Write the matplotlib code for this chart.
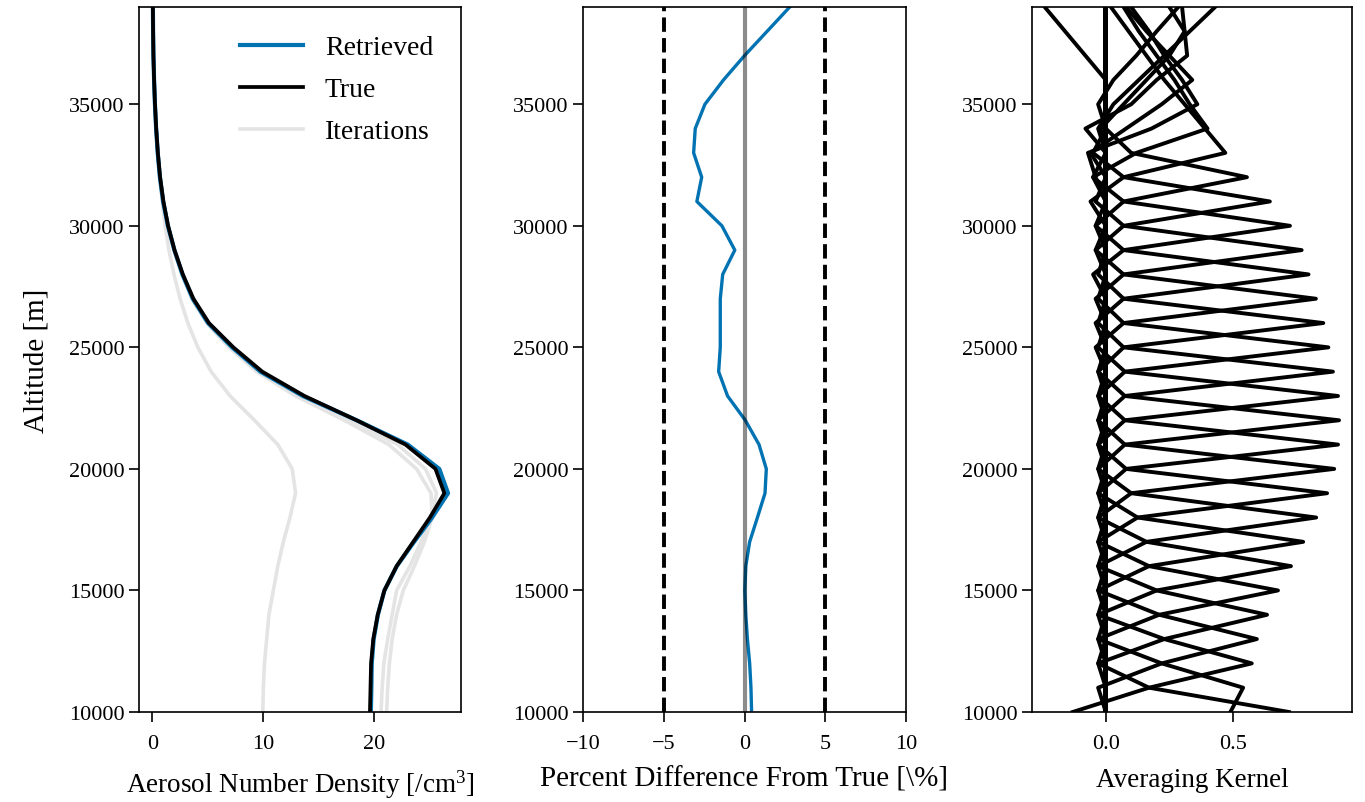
import numpy as np
import matplotlib
matplotlib.use("Agg")
import matplotlib.pyplot as plt

plt.rcParams["font.family"] = ["Liberation Serif", "DejaVu Serif"]
plt.rcParams["mathtext.fontset"] = "custom"
plt.rcParams["mathtext.rm"] = "Liberation Serif"
plt.rcParams["mathtext.it"] = "Liberation Serif:italic"

# Retrieval grid [m]
altitude = np.arange(10000, 41000, 1000)

# True aerosol number density [/cm^3]
true_density = [19.6, 19.65, 19.7, 19.9, 20.3, 20.9, 22.0, 23.5, 25.0, 26.3,
                25.5, 22.8, 18.4, 13.7, 9.9, 7.3, 5.1, 3.7, 2.75, 2.0,
                1.42, 1.0, 0.7, 0.5, 0.35, 0.24, 0.16, 0.1, 0.07, 0.05, 0.04]

# Percent difference retrieved vs. true [%]
percent_diff = [0.44, 0.40, 0.32, 0.18, 0.08, 0.02, 0.08, 0.32, 0.80, 1.27,
                1.35, 0.90, 0.05, -1.05, -1.60, -1.50, -1.50, -1.50, -1.35, -0.60,
                -1.40, -2.95, -2.65, -3.15, -3.05, -2.45, -1.30, 0.0, 1.40, 2.80, 4.20]

# Intermediate iterations of the retrieval
iteration_1 = [9.95, 10.0, 10.1, 10.3, 10.5, 10.9, 11.3, 11.8, 12.4, 12.9,
               12.6, 11.3, 9.2, 7.0, 5.3, 4.1, 3.2, 2.5, 1.95, 1.5,
               1.15, 0.9, 0.66, 0.48, 0.34, 0.24, 0.16, 0.1, 0.07, 0.05, 0.04]
iteration_2 = [21.1, 21.2, 21.35, 21.6, 22.0, 22.6, 23.6, 24.5, 25.2, 25.1,
               23.8, 21.3, 17.3, 12.9, 9.4, 6.9, 4.9, 3.55, 2.65, 1.93,
               1.38, 0.98, 0.69, 0.5, 0.35, 0.24, 0.16, 0.1, 0.07, 0.05, 0.04]
iteration_3 = [20.6, 20.7, 20.85, 21.2, 21.6, 22.0, 23.2, 24.2, 25.1, 25.6,
               24.6, 22.1, 17.8, 13.3, 9.65, 7.1, 5.0, 3.62, 2.7, 1.96,
               1.4, 0.99, 0.7, 0.5, 0.35, 0.24, 0.16, 0.1, 0.07, 0.05, 0.04]
iterations = [iteration_1, iteration_2, iteration_3]

# Averaging kernel, rows 10000-30000 m: value at the row's own altitude
# and at the levels one and two steps below / above it
kernel_peak = [0.72, 0.54, 0.574, 0.594, 0.634, 0.677, 0.728, 0.776, 0.827, 0.87,
               0.898, 0.913, 0.917, 0.913, 0.893, 0.875, 0.855, 0.826, 0.797, 0.77,
               0.724]
kernel_below_1 = [0.0, 0.49, 0.17, 0.22, 0.23, 0.21, 0.20, 0.17, 0.16, 0.125,
                  0.10, 0.08, 0.075, 0.075, 0.075, 0.075, 0.07, 0.07, 0.07, 0.07,
                  0.07]
kernel_above_1 = [0.17, 0.22, 0.23, 0.21, 0.20, 0.17, 0.16, 0.125, 0.10, 0.08,
                  0.075, 0.075, 0.075, 0.075, 0.07, 0.07, 0.07, 0.07, 0.07, 0.07,
                  0.07]
kernel_below_2 = [0.0, 0.0, -0.13, -0.03, -0.03, -0.03, -0.03, -0.03, -0.03, -0.03,
                  -0.03, -0.03, -0.03, -0.03, -0.03, -0.03, -0.03, -0.04, -0.04, -0.04,
                  -0.05]
kernel_above_2 = [-0.03, -0.03, -0.03, -0.03, -0.03, -0.03, -0.03, -0.03, -0.03, -0.03,
                  -0.03, -0.03, -0.03, -0.03, -0.03, -0.03, -0.03, -0.04, -0.04, -0.04,
                  -0.05]

# Averaging kernel, broad rows 31000-40000 m, given on levels 28000-40000 m
upper_levels = np.arange(28000, 41000, 1000)
row_31000 = [0.0, -0.04, 0.07, 0.645, 0.07, -0.05, 0.0, 0.0, 0.0, 0.0, 0.0, 0.0, 0.0]
row_32000 = [0.0, 0.0, -0.04, 0.07, 0.555, 0.10, 0.0, 0.0, 0.0, -0.08, -0.16, -0.24, -0.30]
row_33000 = [0.0, 0.0, 0.0, -0.06, 0.07, 0.47, 0.39, 0.31, 0.23, 0.16, 0.09, 0.02, -0.05]
row_34000 = [0.0, 0.0, 0.0, 0.0, -0.05, 0.12, 0.40, 0.33, 0.27, 0.20, 0.13, 0.07, 0.0]
row_35000 = [0.0, 0.0, 0.0, 0.0, -0.04, -0.07, 0.18, 0.36, 0.30, 0.23, 0.17, 0.10, 0.04]
row_36000 = [0.0, 0.0, 0.0, 0.0, 0.0, -0.06, 0.08, 0.22, 0.34, 0.25, 0.16, 0.08, 0.0]
row_37000 = [0.0, 0.0, 0.0, 0.0, 0.0, 0.0, -0.08, 0.10, 0.20, 0.32, 0.31, 0.30, 0.29]
row_38000 = [0.0, 0.0, 0.0, 0.0, 0.0, 0.0, -0.02, 0.07, 0.16, 0.25, 0.31, 0.25, 0.20]
row_39000 = [0.0, 0.0, 0.0, 0.0, 0.0, 0.0, -0.03, 0.03, 0.13, 0.23, 0.33, 0.43, 0.50]
row_40000 = [0.0, 0.0, 0.0, 0.0, 0.0, 0.0, 0.0, -0.03, 0.03, 0.12, 0.20, 0.285, 0.35]
upper_rows = {31000: row_31000, 32000: row_32000, 33000: row_33000,
              34000: row_34000, 35000: row_35000, 36000: row_36000,
              37000: row_37000, 38000: row_38000, 39000: row_39000,
              40000: row_40000}

n = len(altitude)
kernel = np.zeros((n, n))
bands = {0: kernel_peak,
         -1: kernel_below_1, 1: kernel_above_1,
         -2: kernel_below_2, 2: kernel_above_2}
for i in range(len(kernel_peak)):
    for off, band in bands.items():
        j = i + off
        if 0 <= j < n:
            kernel[i, j] = band[i]
level_index = {int(a): k for k, a in enumerate(altitude)}
for row_alt, values in upper_rows.items():
    i = level_index[row_alt]
    for lev, v in zip(upper_levels, values):
        kernel[i, level_index[int(lev)]] = v

true_density = np.array(true_density)
retrieved = true_density * (1 + np.array(percent_diff) / 100.0)

BLUE = "#0173B2"
TICK_FS = 16
LABEL_FS = 19.5

fig = plt.figure(figsize=(13.65, 8.03), dpi=100)
W, H = 1365, 803
def box(x0, x1, y0=8, y1=713):
    return [x0 / W, 1 - y1 / H, (x1 - x0) / W, (y1 - y0) / H]

ax1 = fig.add_axes(box(139, 461))
ax2 = fig.add_axes(box(583, 906))
ax3 = fig.add_axes(box(1032, 1352))

# Left: density profiles
for k, it in enumerate(iterations):
    ax1.plot(it, altitude, color="#e4e4e4", lw=2.6,
             label="Iterations" if k == 0 else None, zorder=1)
ax1.plot(retrieved, altitude, color=BLUE, lw=3.0, label="Retrieved", zorder=2)
ax1.plot(true_density, altitude, color="black", lw=2.7, label="True", zorder=3)
handles, labels = ax1.get_legend_handles_labels()
order = [labels.index(s) for s in ("Retrieved", "True", "Iterations")]
ax1.legend([handles[i] for i in order], [labels[i] for i in order],
           loc="upper right", frameon=False, fontsize=20,
           handlelength=2.25, handletextpad=0.8, borderaxespad=0.6,
           labelspacing=0.6)
ax1.set_xlim(-1.2, 27.8)
ax1.set_xticks([0, 10, 20])
ax1.set_xlabel("Aerosol Number Density [/cm$^3$]", fontsize=LABEL_FS, labelpad=10)
ax1.set_ylabel("Altitude [m]", fontsize=21, labelpad=14)

# Middle: percent difference
ax2.plot(percent_diff, altitude, color=BLUE, lw=2.4)
ax2.axvline(0, color="black", alpha=0.45, lw=3)
ax2.axvline(-5, color="black", ls="--", lw=2.8)
ax2.axvline(5, color="black", ls="--", lw=2.8)
ax2.set_xlim(-10, 10)
ax2.set_xticks([-10, -5, 0, 5, 10])
ax2.set_xlabel(r"Percent Difference From True [\%]", fontsize=21, labelpad=9)

# Right: averaging kernel rows
for i in range(n):
    ax3.plot(kernel[i], altitude, color="black", lw=2.8)
ax3.set_xlim(-0.29, 0.968)
ax3.set_xticks([0.0, 0.5])
ax3.set_xticklabels(["0.0", "0.5"])
ax3.set_xlabel("Averaging Kernel", fontsize=LABEL_FS, labelpad=10)

for ax in (ax1, ax2, ax3):
    ax.set_ylim(10000, 39000)
    ax.set_yticks(range(10000, 40000, 5000))
    ax.tick_params(labelsize=TICK_FS, length=7, width=1.2, direction="out")
    ax.tick_params(axis="x", pad=9)
    for s in ax.spines.values():
        s.set_linewidth(1.2)

fig.savefig("out.png", dpi=100)
